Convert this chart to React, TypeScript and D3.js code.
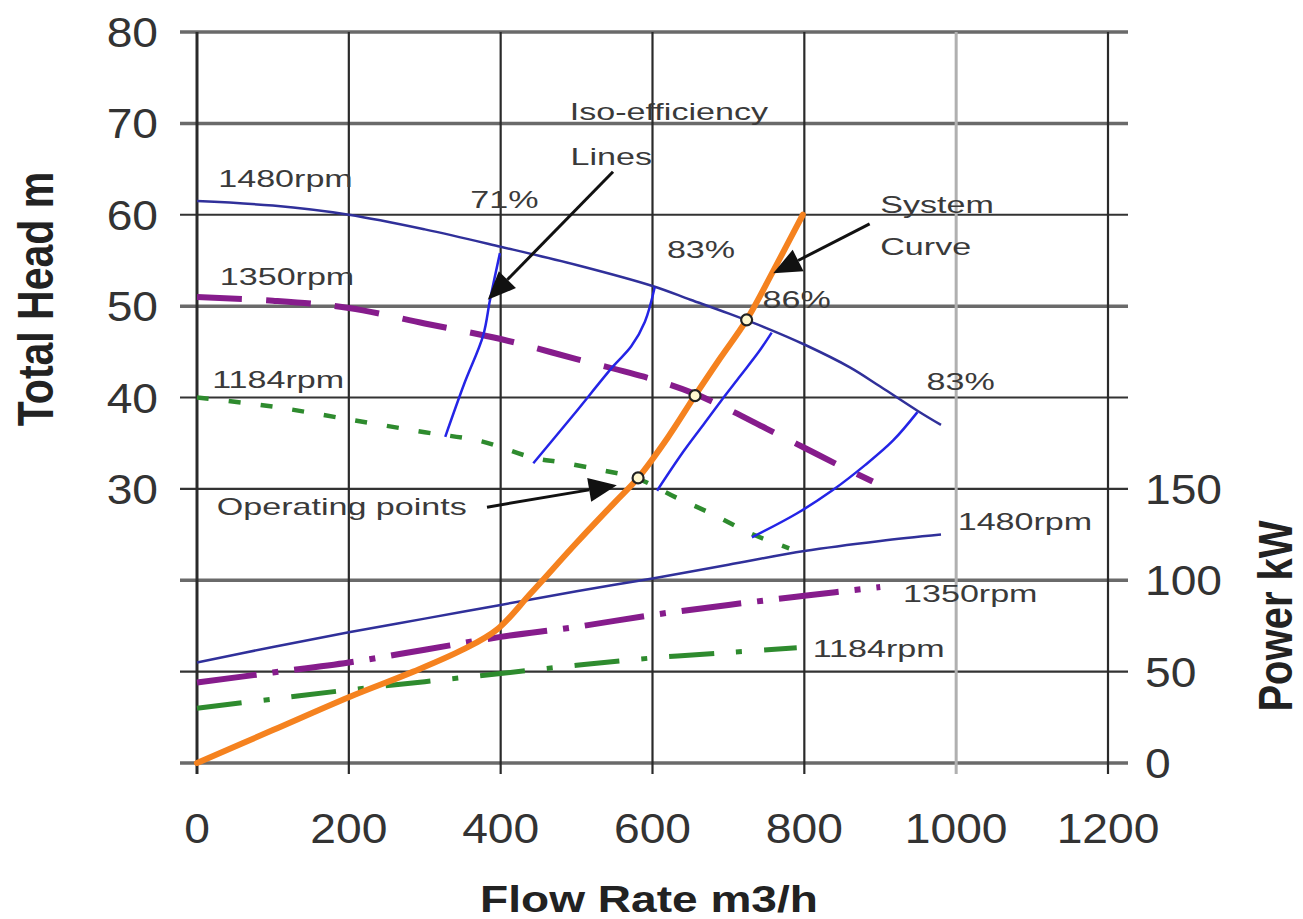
import React from "react";
import * as d3 from "d3";

// pump curves: [flow m3/h, head m] or [flow, power kW]
const flowTicks = [0, 200, 400, 600, 800, 1000, 1200];
const headGrid = [0, 10, 20, 30, 40, 50, 60, 70, 80];
const headLabels = [30, 40, 50, 60, 70, 80];
const powerLabels = [0, 50, 100, 150];

const head1480 = [[0, 61.5], [100, 61], [200, 60], [300, 58.4], [400, 56.5], [500, 54.5], [600, 52.2], [650, 50.7], [700, 49.2], [750, 47.6], [800, 45.8], [860, 43.3], [900, 41.2], [950, 38.5], [980, 37]];
const head1350 = [[0, 51], [100, 50.6], [200, 49.8], [300, 48.1], [400, 46.4], [500, 44.2], [600, 42], [656, 40.4], [700, 38.7], [750, 36.6], [800, 34.5], [850, 32.4], [890, 30.8]];
const head1184 = [[0, 40], [100, 39], [200, 37.6], [300, 36.2], [375, 35.2], [443, 33.4], [480, 32.9], [530, 32.1], [581, 31.1], [630, 29.1], [680, 27.2], [730, 25.1], [780, 23.5]];

const power1480 = [[0, 55], [100, 63.5], [200, 71.5], [300, 79], [400, 86.5], [500, 94], [600, 101], [700, 108.5], [800, 116], [900, 121.5], [980, 125]];
const power1350 = [[0, 44], [100, 49.5], [200, 55], [300, 62], [400, 69], [500, 74.5], [600, 81], [700, 86.5], [800, 91.5], [900, 96.3]];
const power1184 = [[0, 30], [100, 35], [200, 40], [300, 44.5], [400, 49], [500, 53.5], [600, 57.5], [700, 60.5], [790, 63]];

const systemCurve = [[0, 0], [100, 3.6], [200, 7.2], [285, 10], [350, 12.4], [395, 14.6], [440, 18.6], [500, 24.1], [550, 28.5], [581, 31.2], [620, 35.6], [656, 40.2], [690, 44.4], [724, 48.5], [760, 54], [798, 60]];
const operatingPoints = [[581, 31.2], [656, 40.2], [724, 48.5]];

const iso71 = [[327, 35.7], [352, 41.5], [377, 46.8], [386, 50.7], [399, 55.8]];
const iso83a = [[443, 32.8], [495, 38], [548, 43.4], [572, 45.6], [590, 48.3], [603, 52.1]];
const iso86 = [[606, 29.8], [640, 34], [665, 36.8], [690, 39.6], [715, 42.3], [740, 45], [757, 47.1]];
const iso83b = [[731, 24.7], [790, 27.3], [838, 29.9], [880, 32.6], [917, 35.3], [949, 38.4]];

// annotations: text, flow, head (baseline position)
const notes = [
  { text: "1480rpm", flow: 28, head: 63 },
  { text: "1350rpm", flow: 30, head: 52.3 },
  { text: "1184rpm", flow: 20, head: 41 },
  { text: "71%", flow: 360, head: 60.7 },
  { text: "83%", flow: 619, head: 55.3 },
  { text: "86%", flow: 745, head: 49.8 },
  { text: "83%", flow: 961, head: 40.8 },
  { text: "Iso-efficiency", flow: 491, head: 70.4 },
  { text: "Lines", flow: 492, head: 65.4 },
  { text: "System", flow: 900, head: 60.2 },
  { text: "Curve", flow: 900, head: 55.6 },
  { text: "Operating points", flow: 26, head: 27.1 },
  { text: "1480rpm", flow: 1002, head: 25.5 },
  { text: "1350rpm", flow: 930, head: 17.6 },
  { text: "1184rpm", flow: 811, head: 11.6 },
];

const arrows = [
  { from: [548, 64.7], to: [383, 50.7] },
  { from: [886, 59], to: [759, 53.6] },
  { from: [382, 28], to: [553, 30.4] },
];

const FONT = "'Liberation Sans', Arial, sans-serif";

export default function App() {
  const x = d3.scaleLinear().domain([0, 1200]).range([197, 1108]);
  const yH = d3.scaleLinear().domain([0, 80]).range([763, 32]);
  const yP = d3.scaleLinear().domain([0, 400]).range([763, 32]);

  const lineH = d3.line<number[]>().x(d => x(d[0])).y(d => yH(d[1])).curve(d3.curveCatmullRom.alpha(0.5));
  const lineP = d3.line<number[]>().x(d => x(d[0])).y(d => yP(d[1])).curve(d3.curveCatmullRom.alpha(0.5));

  const heavyRows = new Set([0, 20, 50, 70, 80]);

  const arrowShape = (a: { from: number[]; to: number[] }, i: number) => {
    const x1 = x(a.from[0]), y1 = yH(a.from[1]);
    const x2 = x(a.to[0]), y2 = yH(a.to[1]);
    const ang = Math.atan2(y2 - y1, x2 - x1);
    const len = 28, hw = 12;
    const bx = x2 - len * Math.cos(ang), by = y2 - len * Math.sin(ang);
    const px = -Math.sin(ang) * hw, py = Math.cos(ang) * hw;
    return (
      <g key={i}>
        <line x1={x1} y1={y1} x2={bx} y2={by} stroke="#111" strokeWidth={3} />
        <polygon points={`${x2},${y2} ${bx + px},${by + py} ${bx - px},${by - py}`} fill="#111" />
      </g>
    );
  };

  return (
    <svg width={1303} height={919} style={{ position: "absolute", left: 0, top: 0, display: "block", background: "#fff" }}>
      {/* grid */}
      {headGrid.map(v => (
        <line key={"h" + v} x1={x(0) - 17} x2={x(1200) + 20} y1={yH(v)} y2={yH(v)}
          stroke={heavyRows.has(v) ? "#6a6a6a" : "#333"} strokeWidth={heavyRows.has(v) ? 3.5 : 2.2} />
      ))}
      {flowTicks.map(v => (
        <line key={"v" + v} x1={x(v)} x2={x(v)} y1={yH(80)} y2={yH(0) + 11}
          stroke={v === 1000 ? "#b0b0b0" : "#2a2a2a"} strokeWidth={v === 0 ? 3 : v === 1000 ? 3 : 2.2} />
      ))}

      {/* power curves */}
      <path d={lineP(power1184) ?? ""} fill="none" stroke="#2E8B2E" strokeWidth={5} strokeDasharray="45,22,6,22" />
      <path d={lineP(power1350) ?? ""} fill="none" stroke="#861C8C" strokeWidth={6} strokeDasharray="60,16,6,16" />
      <path d={lineP(power1480) ?? ""} fill="none" stroke="#30309A" strokeWidth={2.5} />

      {/* head curves */}
      <path d={lineH(head1184) ?? ""} fill="none" stroke="#2E8B2E" strokeWidth={4.5} strokeDasharray="12,20" />
      <path d={lineH(head1350) ?? ""} fill="none" stroke="#861C8C" strokeWidth={6} strokeDasharray="45,24" />
      <path d={lineH(head1480) ?? ""} fill="none" stroke="#30309A" strokeWidth={2.5} />

      {/* iso-efficiency lines */}
      {[iso71, iso83a, iso86, iso83b].map((d, i) => (
        <path key={"iso" + i} d={lineH(d) ?? ""} fill="none" stroke="#2424E6" strokeWidth={2.5} />
      ))}

      {/* system curve */}
      <path d={lineH(systemCurve) ?? ""} fill="none" stroke="#F5821F" strokeWidth={6} strokeLinecap="round" />

      {operatingPoints.map((d, i) => (
        <circle key={"op" + i} cx={x(d[0])} cy={yH(d[1])} r={5.5} fill="#fff8d0" stroke="#222" strokeWidth={2.2} />
      ))}

      {arrows.map(arrowShape)}

      {/* annotations */}
      {notes.map((n, i) => (
        <text key={"n" + i} transform={`translate(${x(n.flow)},${yH(n.head)}) scale(1.42,1)`}
          fontFamily={FONT} fontSize={24} fill="#3a3a3a">{n.text}</text>
      ))}

      {/* tick labels */}
      {headLabels.map(v => (
        <text key={"hl" + v} transform={`translate(158,${yH(v) + 15}) scale(1.1,1)`} textAnchor="end"
          fontFamily={FONT} fontSize={42} fill="#333">{v}</text>
      ))}
      {powerLabels.map(v => (
        <text key={"pl" + v} transform={`translate(1145,${yP(v) + 15}) scale(1.1,1)`} textAnchor="start"
          fontFamily={FONT} fontSize={42} fill="#333">{v}</text>
      ))}
      {flowTicks.map(v => (
        <text key={"fl" + v} transform={`translate(${x(v)},843) scale(1.1,1)`} textAnchor="middle"
          fontFamily={FONT} fontSize={42} fill="#333">{v}</text>
      ))}

      {/* axis titles */}
      <text transform="translate(649,912) scale(1.28,1)" textAnchor="middle" fontFamily={FONT}
        fontSize={36} fontWeight="bold" fill="#222">Flow Rate m3/h</text>
      <text transform="translate(53,299) rotate(-90) scale(1,1.22)" textAnchor="middle" fontFamily={FONT}
        fontSize={41} fontWeight="bold" fill="#222">Total Head m</text>
      <text transform="translate(1292,616) rotate(-90) scale(1,1.2)" textAnchor="middle" fontFamily={FONT}
        fontSize={40} fontWeight="bold" fill="#222">Power kW</text>
    </svg>
  );
}
